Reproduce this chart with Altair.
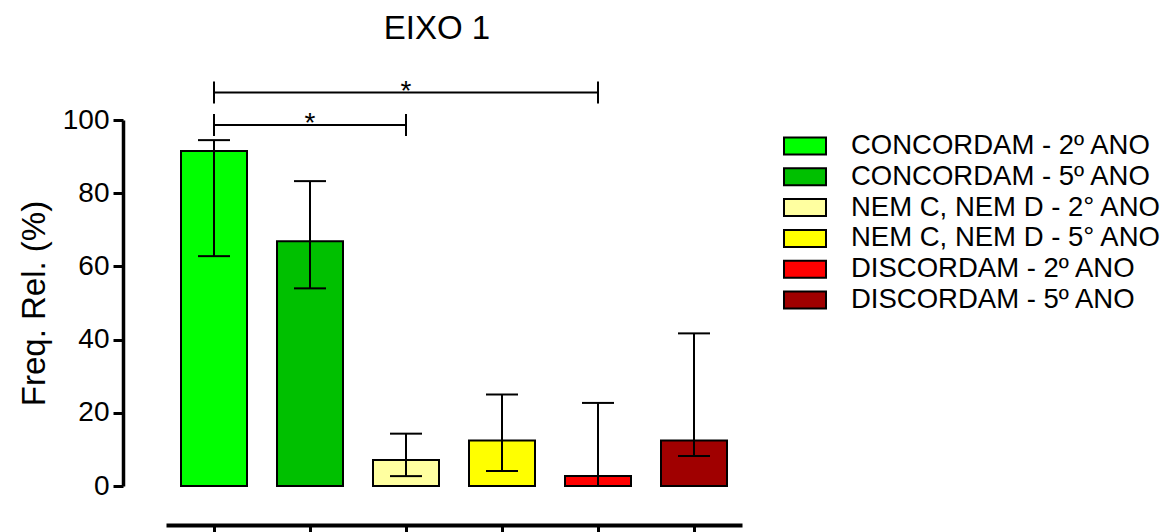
import altair as alt
import pandas as pd

# ---- data ----
categories = [
    "CONCORDAM - 2º ANO",
    "CONCORDAM - 5º ANO",
    "NEM C, NEM D - 2° ANO",
    "NEM C, NEM D - 5° ANO",
    "DISCORDAM - 2º ANO",
    "DISCORDAM - 5º ANO",
]
values = [91.5, 66.9, 7.1, 12.4, 2.7, 12.4]
err_low = [62.8, 54.0, 2.7, 4.1, 0.0, 8.2]
err_high = [94.5, 83.3, 14.3, 25.0, 22.7, 41.7]
colors = ["#00FF00", "#00C000", "#FFFFA0", "#FFFF00", "#FF0000", "#A00000"]

# significance brackets
sig_start = [categories[0], categories[0]]
sig_end = [categories[2], categories[4]]
sig_mid = [categories[1], categories[2]]
sig_level = [98.6, 107.5]
sig_label = ["*", "*"]

y_ticks = [0, 20, 40, 60, 80, 100]

FONT = "Liberation Sans"

bars_df = pd.DataFrame({"cat": categories, "value": values, "lo": err_low, "hi": err_high})
br_df = pd.DataFrame({"cat": sig_start, "cat_end": sig_end, "level": sig_level})
br_end_df = pd.DataFrame({"cat": sig_start + sig_end, "level": sig_level + sig_level})
star_df = pd.DataFrame({"cat": sig_mid, "level": sig_level, "label": sig_label})

x_scale = alt.Scale(domain=categories, paddingInner=0.3125, paddingOuter=0.15625)
y_scale = alt.Scale(domain=[0, 100], nice=False, zero=True)
YT = "Freq. Rel. (%)"

x_enc = alt.X(
    "cat:N",
    scale=x_scale,
    sort=categories,
    axis=alt.Axis(
        title=None, labels=False, offset=39, domainWidth=4, domainColor="black",
        tickWidth=3, tickColor="black", tickSize=10, grid=False,
    ),
)

y_axis = alt.Axis(
    values=y_ticks, offset=43, domainWidth=3.5, domainColor="black",
    tickWidth=3, tickColor="black", tickSize=10, labelFontSize=28,
    labelFont=FONT, labelColor="black", labelPadding=4, grid=False,
    titleFontSize=33, titleFont=FONT, titleFontWeight="normal",
    titleColor="black", titlePadding=11,
)

bars = alt.Chart(bars_df).mark_bar(stroke="black", strokeWidth=2, opacity=1).encode(
    x=x_enc,
    y=alt.Y("value:Q", scale=y_scale, axis=y_axis, title=YT),
    color=alt.Color(
        "cat:N",
        scale=alt.Scale(domain=categories, range=colors),
        sort=categories,
        legend=alt.Legend(
            title=None, orient="none", legendX=623, legendY=10,
            symbolType="M-1.4,-0.567H1.4V0.567H-1.4Z", symbolSize=900,
            symbolStrokeColor="black", symbolStrokeWidth=2, symbolOpacity=1,
            labelFontSize=27.5, labelFont=FONT, labelColor="black",
            labelOffset=30, rowPadding=0.8, labelLimit=0,
        ),
    ),
)

err_rule = alt.Chart(bars_df).mark_rule(color="black", strokeWidth=2).encode(
    x=alt.X("cat:N", scale=x_scale, sort=categories),
    y=alt.Y("lo:Q", scale=y_scale, title=YT),
    y2="hi:Q",
)

caps = alt.Chart(bars_df).transform_fold(["lo", "hi"], as_=["which", "v"]).mark_tick(
    color="black", size=32, thickness=2, orient="horizontal", opacity=1
).encode(
    x=alt.X("cat:N", scale=x_scale, sort=categories),
    y=alt.Y("v:Q", scale=y_scale, title=YT),
)

br_line = alt.Chart(br_df).mark_rule(color="black", strokeWidth=2).encode(
    x=alt.X("cat:N", scale=x_scale, sort=categories),
    x2="cat_end:N",
    y=alt.Y("level:Q", scale=y_scale, title=YT),
)

br_ends = alt.Chart(br_end_df).mark_tick(
    color="black", size=22, thickness=2, orient="vertical", opacity=1
).encode(
    x=alt.X("cat:N", scale=x_scale, sort=categories),
    y=alt.Y("level:Q", scale=y_scale, title=YT),
)

stars = alt.Chart(star_df).mark_text(
    font=FONT, fontSize=28, color="black", baseline="alphabetic", dy=7, align="center"
).encode(
    x=alt.X("cat:N", scale=x_scale, sort=categories),
    y=alt.Y("level:Q", scale=y_scale, title=YT),
    text="label:N",
)

chart = alt.layer(bars, err_rule, caps, br_line, br_ends, stars).properties(
    width=576,
    height=366,
    autosize=alt.AutoSizeParams(type="none"),
    padding={"left": 158, "top": 112, "right": 418, "bottom": 46},
    background="white",
    title=alt.TitleParams(
        "EIXO 1", fontSize=33, font=FONT, fontWeight="normal", color="black",
        anchor="middle", dx=-17, offset=32,
    ),
).configure_view(stroke=None, strokeWidth=0)

chart.save("out.html", embed_options={"renderer": "svg", "actions": False})
